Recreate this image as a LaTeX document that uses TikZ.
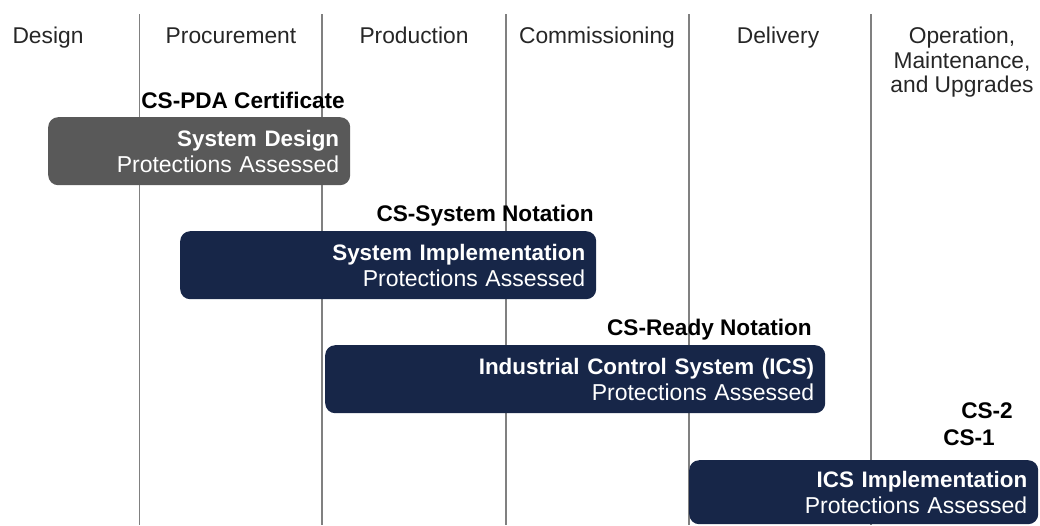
\documentclass[tikz,border=0pt]{standalone}
\usepackage{fontspec}
\setmainfont{Liberation Sans}
\definecolor{navy}{RGB}{23,38,72}
\definecolor{boxgray}{RGB}{89,89,89}
\definecolor{gridgray}{RGB}{128,128,128}
\newcommand{\boxhead}[1]{{\fontsize{22.4}{26}\selectfont\bfseries #1}}
\begin{document}
\begin{tikzpicture}[x=1pt,y=-1pt,
  hdr/.style={inner sep=0pt, anchor=base, font=\fontsize{22.8}{24}\selectfont, text=black!85},
  lbl/.style={inner sep=0pt, anchor=base east, font=\fontsize{22.6}{24}\selectfont\bfseries},
  phase/.style={rounded corners=10pt, inner xsep=11pt, inner ysep=0pt, align=right,
    text=white, font=\fontsize{23}{26}\selectfont, anchor=north west, minimum height=68pt},
  vline/.style={draw=gridgray, line width=1.6pt}
]
\useasboundingbox (0,0) rectangle (1040,525);
% phase separators
\foreach \x/\n in {139.5/a,322/b,506/c,689/d,871/e}{
  \coordinate (t\n) at (\x,14);
  \coordinate (u\n) at (\x,525);
  \draw[vline] (t\n) -- (u\n);
}
% headers
\node[hdr] (hdesign) at (48,43) {Design};
\node[hdr] (hproc) at (231,43) {Procurement};
\node[hdr] (hprod) at (414,43) {Production};
\node[hdr] (hcomm) at (597,43) {Commissioning};
\node[hdr] (hdel) at (778,43) {Delivery};
\node[hdr, anchor=north, align=center, font=\fontsize{22.8}{24.5}\selectfont] (hop) at (962,27) {Operation,\\Maintenance,\\and Upgrades};
% boxes
\node[phase, fill=boxgray, text width=280pt] (b1) at (48,117)
  {\boxhead{System Design}\\Protections Assessed};
\node[phase, fill=navy, text width=394pt] (b2) at (180,231)
  {\boxhead{System Implementation}\\Protections Assessed};
\node[phase, fill=navy, text width=478pt] (b3) at (325,345)
  {\boxhead{Industrial Control System (ICS)}\\Protections Assessed};
\node[phase, fill=navy, text width=327pt, minimum height=64pt] (b4) at (689,460)
  {\boxhead{ICS Implementation}\\Protections Assessed};
% labels
\node[lbl] (l1) at (345,108) {CS-PDA Certificate};
\node[lbl] (l2) at (594,221) {CS-System Notation};
\node[lbl] (l3) at (812,335) {CS-Ready Notation};
\node[lbl] (l4) at (1013,418) {CS-2};
\node[lbl] (l5) at (995,445) {CS-1};
\end{tikzpicture}
\end{document}
